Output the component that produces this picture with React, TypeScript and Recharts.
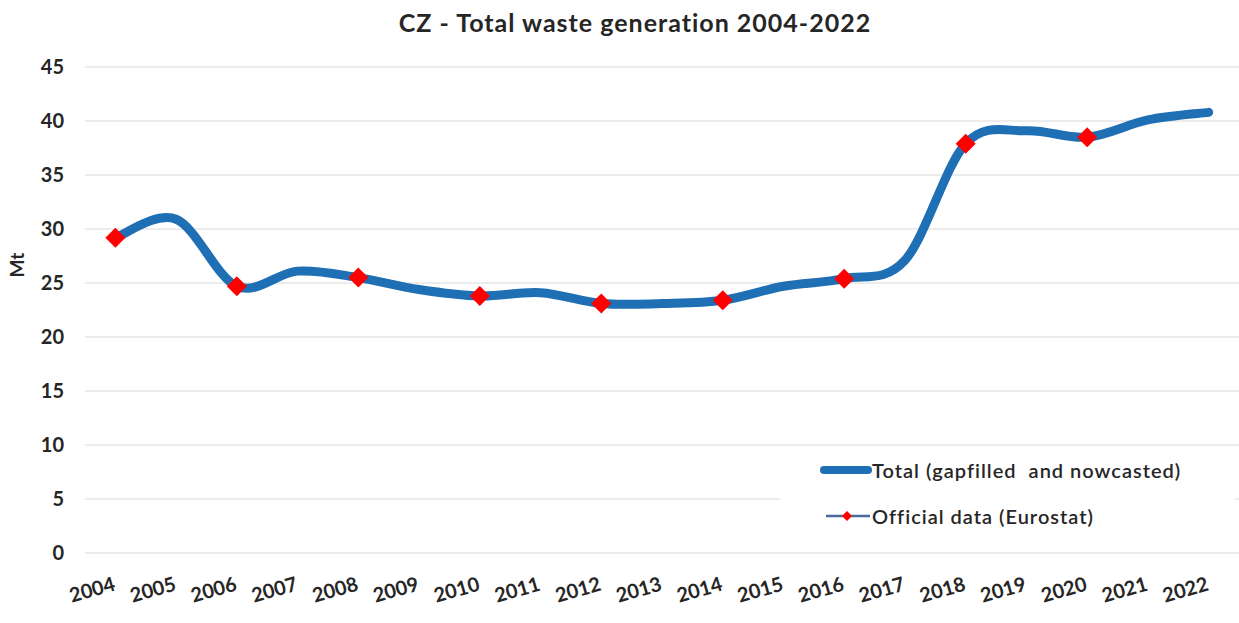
import React from "react";
import { LineChart, Line, XAxis, YAxis, CartesianGrid, Legend } from "recharts";

const years = [2004, 2005, 2006, 2007, 2008, 2009, 2010, 2011, 2012, 2013, 2014, 2015, 2016, 2017, 2018, 2019, 2020, 2021, 2022];
const totalMt = [29.2, 30.9, 24.7, 26.1, 25.5, 24.4, 23.8, 24.1, 23.1, 23.1, 23.4, 24.7, 25.4, 27.1, 37.9, 39.1, 38.5, 40.1, 40.8];
const officialMt = [29.2, null, 24.7, null, 25.5, null, 23.8, null, 23.1, null, 23.4, null, 25.4, null, 37.9, null, 38.5, null, null];
const yTicks = [0, 5, 10, 15, 20, 25, 30, 35, 40, 45];

const TITLE = "CZ - Total waste generation 2004-2022";
const Y_LABEL = "Mt";
const TOTAL_NAME = "Total (gapfilled\u00a0 and nowcasted)";
const OFFICIAL_NAME = "Official data (Eurostat)";

const data = years.map((year, i) => ({ year, total: totalMt[i], official: officialMt[i] }));
const xDomain = [years[0] - 0.5, years[years.length - 1] + 0.5];
const boundaryTicks = years.map((y) => y - 0.5).concat([years[years.length - 1] + 0.5]);

const FONT = "Lato, 'Noto Sans', sans-serif";
const BLUE = "#1F6FB5";
const RED = "#FF0000";
const TEXT = "#262626";

// Excel-like smoothed line (Catmull-Rom Bezier)
const excelSmooth = (context: any) => {
  let pts: number[][] = [];
  return {
    areaStart() {},
    areaEnd() {},
    lineStart() {
      pts = [];
    },
    point(x: number, y: number) {
      pts.push([+x, +y]);
    },
    lineEnd() {
      const n = pts.length;
      if (!n) return;
      context.moveTo(pts[0][0], pts[0][1]);
      for (let i = 0; i < n - 1; i++) {
        const p0 = pts[i - 1] || pts[i];
        const p1 = pts[i];
        const p2 = pts[i + 1];
        const p3 = pts[i + 2] || pts[i + 1];
        context.bezierCurveTo(
          p1[0] + (p2[0] - p0[0]) / 6,
          p1[1] + (p2[1] - p0[1]) / 6,
          p2[0] - (p3[0] - p1[0]) / 6,
          p2[1] - (p3[1] - p1[1]) / 6,
          p2[0],
          p2[1]
        );
      }
    },
  };
};

const Diamond = (props: any) => {
  const { cx, cy, index } = props;
  if (cx == null || cy == null || props.value == null) return <g key={`d-${index}`} />;
  const r = 10;
  return (
    <polygon
      key={`d-${index}`}
      points={`${cx},${cy - r} ${cx + r},${cy} ${cx},${cy + r} ${cx - r},${cy}`}
      fill={RED}
      stroke="none"
    />
  );
};

const YearTick = (props: any) => {
  const { x, y, payload } = props;
  return (
    <g transform={`translate(${x + 1},${y + 29})`}>
      <text
        x={0}
        y={0}
        textAnchor="end"
        transform="rotate(-16)"
        fontFamily={FONT}
        fontWeight={700}
        fontSize={20}
        fill={TEXT}
      >
        {payload.value}
      </text>
    </g>
  );
};

const EmptyTick = () => <g />;

const LegendContent = () => (
  <div style={{ fontFamily: FONT, fontSize: 20, fontWeight: 600, color: TEXT, letterSpacing: 1 }}>
    <div style={{ display: "flex", alignItems: "center", height: 30, marginBottom: 16 }}>
      <svg width={52} height={12} style={{ marginLeft: 40 }}>
        <line x1={4} y1={6} x2={48} y2={6} stroke={BLUE} strokeWidth={8} strokeLinecap="round" />
      </svg>
      <span style={{ whiteSpace: "pre" }}>{TOTAL_NAME}</span>
    </div>
    <div style={{ display: "flex", alignItems: "center", height: 30 }}>
      <svg width={46} height={12} style={{ marginLeft: 46 }}>
        <line x1={0} y1={6} x2={44} y2={6} stroke="#4A6C9B" strokeWidth={2.5} />
        <polygon points="21,1 26,6 21,11 16,6" fill={RED} />
      </svg>
      <span style={{ whiteSpace: "pre" }}>{OFFICIAL_NAME}</span>
    </div>
  </div>
);

export default function App() {
  return (
    <div style={{ position: "absolute", left: 0, top: 0, width: 1239, height: 623, background: "#fff", overflow: "hidden" }}>
      <div
        style={{
          position: "absolute",
          left: 31,
          top: 7,
          width: 1208,
          textAlign: "center",
          fontFamily: FONT,
          fontWeight: 700,
          fontSize: 25,
          letterSpacing: 1,
          lineHeight: "30px",
          color: TEXT,
        }}
      >
        {TITLE}
      </div>
      <div
        style={{
          position: "absolute",
          left: -3,
          top: 255,
          width: 40,
          height: 20,
          lineHeight: "20px",
          textAlign: "center",
          transform: "rotate(-90deg)",
          fontFamily: FONT,
          fontWeight: 700,
          fontSize: 19,
          color: TEXT,
          zIndex: 2,
        }}
      >
        {Y_LABEL}
      </div>
      <LineChart width={1239} height={623} data={data} margin={{ top: 67, right: 0, bottom: 0, left: 0 }}>
        <CartesianGrid vertical={false} stroke="#D9D9D9" strokeWidth={1.2} />
        <XAxis
          xAxisId="bounds"
          dataKey="year"
          type="number"
          domain={xDomain}
          ticks={boundaryTicks}
          interval={0}
          tick={<EmptyTick />}
          tickSize={7}
          tickLine={{ stroke: "#BFBFBF", strokeWidth: 1.5 }}
          axisLine={{ stroke: "#BFBFBF", strokeWidth: 1.5 }}
          height={0}
          allowDataOverflow
        />
        <XAxis
          xAxisId="labels"
          dataKey="year"
          type="number"
          domain={xDomain}
          ticks={years}
          interval={0}
          tick={<YearTick />}
          tickLine={false}
          axisLine={false}
          height={70}
          allowDataOverflow
        />
        <YAxis
          width={85}
          domain={[0, 45]}
          ticks={yTicks}
          interval={0}
          axisLine={false}
          tickLine={false}
          tickMargin={15}
          tick={{ fontFamily: FONT, fontWeight: 700, fontSize: 20, fill: TEXT }}
        />
        <Legend
          verticalAlign="middle"
          align="center"
          layout="horizontal"
          wrapperStyle={{ position: "absolute", left: 780, top: 455, width: 455, height: 86, background: "#fff" }}
          content={<LegendContent />}
        />
        <Line
          xAxisId="bounds"
          dataKey="total"
          name={TOTAL_NAME}
          type={excelSmooth as any}
          stroke={BLUE}
          strokeWidth={9}
          strokeLinecap="round"
          strokeLinejoin="round"
          dot={false}
          activeDot={false}
          isAnimationActive={false}
        />
        <Line
          xAxisId="labels"
          dataKey="official"
          name={OFFICIAL_NAME}
          stroke="none"
          strokeWidth={0}
          dot={<Diamond />}
          activeDot={false}
          isAnimationActive={false}
        />
      </LineChart>
    </div>
  );
}
